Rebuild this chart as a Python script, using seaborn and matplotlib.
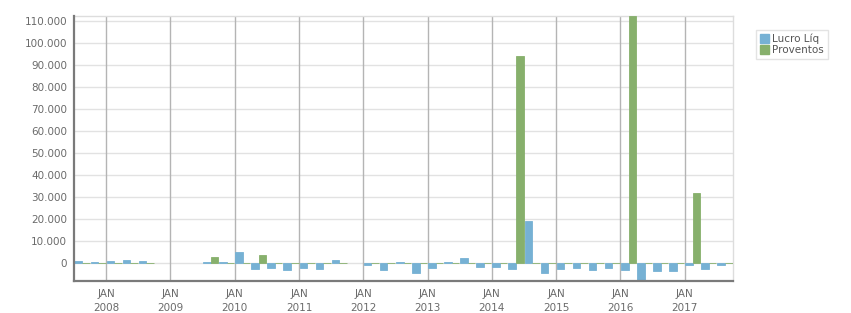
import numpy as np
import pandas as pd
import matplotlib
matplotlib.use("Agg")
import matplotlib.pyplot as plt
import seaborn as sns
from matplotlib.ticker import FuncFormatter
from matplotlib.patches import Patch

quarters = ["2007Q3", "2007Q4",
            "2008Q1", "2008Q2", "2008Q3", "2008Q4",
            "2009Q1", "2009Q2", "2009Q3", "2009Q4",
            "2010Q1", "2010Q2", "2010Q3", "2010Q4",
            "2011Q1", "2011Q2", "2011Q3", "2011Q4",
            "2012Q1", "2012Q2", "2012Q3", "2012Q4",
            "2013Q1", "2013Q2", "2013Q3", "2013Q4",
            "2014Q1", "2014Q2", "2014Q3", "2014Q4",
            "2015Q1", "2015Q2", "2015Q3", "2015Q4",
            "2016Q1", "2016Q2", "2016Q3", "2016Q4",
            "2017Q1", "2017Q2", "2017Q3"]
nan = np.nan
lucro_liq = [1000, 600,
             1000, 1500, 1000, nan,
             nan, nan, 600, 600,
             5100, -2600, -2000, -3000,
             -2100, -2600, 1500, nan,
             -800, -3000, 600, -4400,
             -2100, 600, 2400, -1700,
             -1700, -2600, 19200, -4400,
             -2600, -2100, -3000, -2100,
             -3000, -7900, -3500, -3500,
             -800, -2600, -800]
proventos = [0, 0,
             0, 0, 0, nan,
             nan, nan, 3000, 0,
             0, 3800, 0, 0,
             0, 0, 0, nan,
             0, 0, 0, 0,
             0, 0, 0, 0,
             0, 94000, 0, 0,
             0, 0, 0, 0,
             112000, 0, 0, 0,
             32000, 0, 0]
series_names = ["Lucro Líq", "Proventos"]
colors = ["#76b1d4", "#87b06c"]

df = pd.DataFrame({
    "quarter": quarters * 2,
    "value": lucro_liq + proventos,
    "series": [series_names[0]] * len(quarters) + [series_names[1]] * len(quarters),
}).dropna()

sns.set_style("white")
plt.rcParams["font.family"] = ["DejaVu Sans"]

fig = plt.figure(figsize=(8.51, 3.13), dpi=100)
ax = fig.add_axes([74 / 851, 1 - 280.7 / 313, (733 - 74) / 851, (280.7 - 16) / 313])

sns.barplot(data=df, x="quarter", y="value", hue="series", order=quarters,
            hue_order=series_names, palette=colors, errorbar=None,
            width=0.94, dodge=True, saturation=1, ax=ax, legend=False, zorder=3)

for p in ax.patches:
    p.set_edgecolor(p.get_facecolor())
    p.set_linewidth(0.6)

ymin = np.nanmin(lucro_liq)
ymax = np.nanmax(proventos)
ax.set_xlim(-0.5, len(quarters) - 0.5)
ax.set_ylim(ymin, ymax + 150)

yt = np.arange(0, 110001, 10000)
ax.set_yticks(yt)
ax.yaxis.set_major_formatter(FuncFormatter(lambda v, _: f"{int(v):,}".replace(",", ".")))
ax.grid(axis="y", color="#e2e2e2", linewidth=1.0, zorder=0)

jan_pos = [i - 0.5 for i, q in enumerate(quarters) if q.endswith("Q1")]
jan_lab = ["JAN\n" + q[:4] for q in quarters if q.endswith("Q1")]
ax.set_xticks(jan_pos)
ax.set_xticklabels(jan_lab, linespacing=1.45)
for xp in jan_pos:
    ax.axvline(xp, color="#b4b4b4", linewidth=1.0, zorder=1)

ax.set_xlabel("")
ax.set_ylabel("")
ax.tick_params(axis="both", labelsize=7.5, labelcolor="#6a6a6a", colors="#888888",
               length=3, width=0.8, direction="out")
ax.tick_params(axis="y", pad=2)
ax.tick_params(axis="x", pad=3)

for s in ["left", "bottom"]:
    ax.spines[s].set_color("#7a7a7a")
    ax.spines[s].set_linewidth(1.6)
    ax.spines[s].set_zorder(5)
for s in ["top", "right"]:
    ax.spines[s].set_visible(True)
    ax.spines[s].set_color("#dddddd")
    ax.spines[s].set_linewidth(1.0)

handles = [Patch(facecolor=c, edgecolor=c) for c in colors]
leg = fig.legend(handles, series_names, loc="upper left",
                 bbox_to_anchor=(756 / 851, 1 - 30 / 313), frameon=True,
                 fontsize=7.5, handlelength=0.9, handleheight=0.9,
                 handletextpad=0.3, labelspacing=0.1, borderpad=0.35,
                 fancybox=False, borderaxespad=0)
leg.get_frame().set_edgecolor("#dddddd")
leg.get_frame().set_linewidth(1.0)
for t in leg.get_texts():
    t.set_color("#555555")

fig.savefig("out.png", dpi=100)
